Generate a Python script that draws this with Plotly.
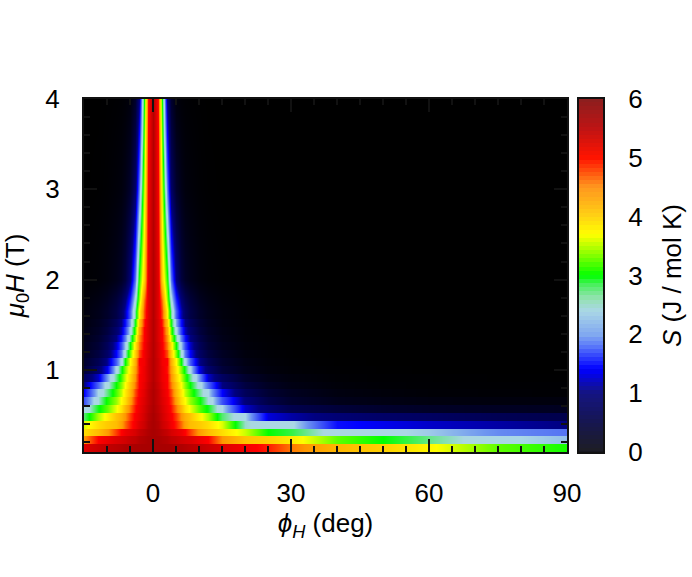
import plotly.graph_objects as go

W, H = 692, 577
phi_abs = [0, 1, 2, 3, 4, 5, 6, 7, 8, 10, 12, 15, 20, 25, 30, 40, 50, 60, 75, 90]

# Rows with visible steps (bottom to top)
S_low = [
    [5.76, 5.76, 5.76, 5.75, 5.75, 5.7, 5.7, 5.65, 5.6, 5.55, 5.45, 5.3, 5.1, 4.9, 4.6, 4.25, 4.05, 3.75, 3.25, 3.05],
    [5.76, 5.75, 5.7, 5.65, 5.55, 5.5, 5.4, 5.35, 5.3, 5.15, 5.0, 4.5, 4.15, 4.05, 3.85, 3.25, 3.0, 2.7, 2.3, 2.15],
    [5.76, 5.7, 5.6, 5.5, 5.35, 5.25, 5.15, 5.0, 4.8, 4.45, 4.2, 3.95, 3.55, 3.0, 2.85, 2.35, 2.3, 2.2, 1.95, 1.85],
    [5.75, 5.65, 5.45, 5.3, 5.1, 4.9, 4.65, 4.4, 4.2, 4.1, 3.95, 3.6, 2.55, 2.35, 2.3, 1.4, 1.3, 1.2, 1.1, 1.0],
    [5.75, 5.6, 5.4, 5.2, 5.05, 4.8, 4.5, 4.3, 4.15, 3.8, 3.45, 2.75, 2.25, 1.25, 1.1, 0.9, 0.8, 0.75, 0.65, 0.6],
    [5.72, 5.55, 5.35, 5.15, 4.95, 4.6, 4.25, 3.9, 3.65, 3.25, 2.95, 2.25, 1.2, 0.85, 0.6, 0.45, 0.35, 0.3, 0.27, 0.25],
    [5.7, 5.5, 5.3, 5.1, 4.85, 4.4, 3.95, 3.7, 3.4, 3.05, 2.5, 1.7, 0.95, 0.55, 0.35, 0.2, 0.15, 0.12, 0.1, 0.1],
    [5.7, 5.5, 5.25, 5.05, 4.75, 4.25, 3.85, 3.5, 3.2, 2.7, 2.25, 1.35, 0.7, 0.4, 0.25, 0.12, 0.08, 0.05, 0.04, 0.03],
    [5.68, 5.45, 5.2, 5.0, 4.6, 4.15, 3.7, 3.35, 3.0, 2.4, 1.8, 1.0, 0.5, 0.27, 0.15, 0.07, 0.04, 0.03, 0.02, 0.02],
    [5.65, 5.4, 5.15, 5.0, 4.5, 4.0, 3.55, 3.15, 2.7, 2.0, 1.2, 0.75, 0.35, 0.18, 0.1, 0.04, 0.02, 0.02, 0.01, 0.01],
    [5.65, 5.4, 5.15, 4.95, 4.4, 3.85, 3.35, 2.9, 2.3, 1.3, 0.85, 0.45, 0.2, 0.1, 0.05, 0.02, 0.01, 0, 0, 0],
    [5.65, 5.4, 5.1, 5.0, 4.3, 3.7, 3.0, 2.3, 1.75, 1.05, 0.65, 0.35, 0.15, 0.07, 0.03, 0.01, 0, 0, 0, 0],
    [5.65, 5.35, 5.1, 4.75, 4.05, 3.3, 2.5, 1.85, 1.35, 0.8, 0.5, 0.27, 0.1, 0.05, 0.02, 0, 0, 0, 0, 0],
    [5.65, 5.35, 5.05, 4.6, 3.85, 3.0, 2.2, 1.65, 1.2, 0.7, 0.42, 0.22, 0.08, 0.04, 0.02, 0, 0, 0, 0, 0],
    [5.65, 5.3, 5.0, 4.5, 3.5, 2.65, 1.9, 1.4, 1.0, 0.6, 0.36, 0.18, 0.06, 0.03, 0.01, 0, 0, 0, 0, 0],
    [5.65, 5.3, 5.0, 4.35, 3.2, 2.3, 1.6, 1.15, 0.85, 0.5, 0.3, 0.15, 0.05, 0.02, 0, 0, 0, 0, 0, 0],
    [5.65, 5.3, 4.9, 4.1, 2.95, 2.05, 1.4, 1.0, 0.7, 0.42, 0.25, 0.12, 0.04, 0.02, 0, 0, 0, 0, 0, 0],
    [5.65, 5.25, 4.75, 3.75, 2.65, 1.75, 1.15, 0.8, 0.55, 0.33, 0.2, 0.1, 0.03, 0, 0, 0, 0, 0, 0, 0],
]
# Smoother upper rows
H_high = [1.77, 2.0, 3.0, 4.0]
S_high = [
    [5.65, 5.25, 4.6, 3.4, 2.35, 1.5, 0.95, 0.65, 0.45, 0.25, 0.15, 0.07, 0.02, 0, 0, 0, 0, 0, 0, 0],
    [5.65, 5.25, 4.05, 3.1, 1.85, 0.95, 0.48, 0.3, 0.2, 0.1, 0.05, 0.02, 0, 0, 0, 0, 0, 0, 0, 0],
    [5.65, 5.1, 3.5, 1.9, 0.8, 0.35, 0.18, 0.1, 0.07, 0.03, 0.01, 0, 0, 0, 0, 0, 0, 0, 0, 0],
    [5.65, 4.95, 3.0, 1.0, 0.35, 0.1, 0.05, 0.03, 0.02, 0.01, 0, 0, 0, 0, 0, 0, 0, 0, 0, 0],
]

H_bottom, row_step = 0.09, 0.0869
x_ticks = [0, 30, 60, 90]
y_ticks = [1, 2, 3, 4]
cb_ticks = [0, 1, 2, 3, 4, 5, 6]

map_stops = [(0, (0, 0, 0)), (1, (0, 0, 128)), (1.35, (0, 0, 255)), (2, (110, 150, 240)),
             (2.25, (170, 215, 230)), (2.5, (170, 215, 225)), (3, (0, 255, 0)), (3.35, (130, 255, 0)),
             (3.7, (255, 255, 0)), (4, (255, 215, 0)), (4.5, (255, 150, 0)), (5, (255, 0, 0)), (6, (140, 0, 0))]
bar_stops = [(0, (30, 30, 35)), (0.5, (22, 22, 80)), (1, (20, 20, 130)), (1.4, (0, 0, 255)), (1.8, (90, 120, 250)),
             (2, (130, 170, 240)), (2.4, (170, 215, 230)), (2.6, (150, 225, 180)), (2.85, (70, 240, 90)), (3, (0, 255, 0)),
             (3.3, (120, 255, 0)), (3.7, (255, 255, 0)), (4, (255, 210, 20)), (4.5, (255, 150, 30)),
             (5, (255, 20, 0)), (5.5, (190, 20, 20)), (6, (140, 30, 30))]


def scale(stops):
    return [[v / 6, f"rgb{c}"] for v, c in stops]


def mirrored(row):
    return row[:0:-1] + row


def xdom(a, b):
    return [a / W, b / W]


def ydom(top, bottom):
    return [1 - bottom / H, 1 - top / H]


x = [-p for p in phi_abs[:0:-1]] + phi_abs
y, z = [], []
for i, row in enumerate(S_low):
    y += [H_bottom + i * row_step + 0.002, H_bottom + (i + 1) * row_step - 0.002]
    z += [mirrored(row), mirrored(row)]
for h, row in zip(H_high, S_high):
    y.append(h)
    z.append(mirrored(row))

bar_levels = [i * 0.07 + 0.035 for i in range(86)]

fig = go.Figure()
fig.add_trace(go.Heatmap(x=x, y=y, z=z, zmin=0, zmax=6, colorscale=scale(map_stops), zsmooth="best",
                         showscale=False, xaxis="x", yaxis="y"))
fig.add_trace(go.Heatmap(x=[0], y=bar_levels, z=[[v] for v in bar_levels], zmin=0, zmax=6,
                         colorscale=scale(bar_stops), showscale=False, xaxis="x2", yaxis="y2"))

FONT = dict(family="Liberation Sans, Arial, sans-serif", size=26, color="black")
LINE = "#111111"
fig.update_layout(
    width=W, height=H, autosize=False, margin=dict(l=0, r=0, t=0, b=0, pad=0, autoexpand=False),
    paper_bgcolor="white", plot_bgcolor="black", font=FONT, showlegend=False,
    xaxis=dict(domain=xdom(84, 567), range=[-15, 90], tickvals=x_ticks, ticks="inside", ticklen=13, tickwidth=2,
               tickcolor=LINE, showline=True, linecolor=LINE, linewidth=2, mirror="ticks", showgrid=False, zeroline=False,
               minor=dict(dtick=5, tick0=0, ticks="inside", ticklen=6, tickwidth=2, tickcolor=LINE), automargin=False,
               tickfont=FONT, ticklabelstandoff=17, title=dict(text="<i>ϕ</i><sub><i>H</i></sub> (deg)", standoff=6, font=FONT)),
    yaxis=dict(domain=ydom(99, 452), range=[H_bottom, 4], tickvals=y_ticks, ticks="inside", ticklen=13,
               tickwidth=2, tickcolor=LINE, showline=True, linecolor=LINE, linewidth=2, mirror="ticks", showgrid=False,
               zeroline=False, minor=dict(dtick=0.2, tick0=0, ticks="inside", ticklen=6, tickwidth=2, tickcolor=LINE),
               automargin=False, tickfont=FONT, ticklabelstandoff=17,
               title=dict(text="<i>μ</i><sub>0</sub><i>H</i> (T)", standoff=20, font=FONT)),
    xaxis2=dict(domain=xdom(579, 603), anchor="y2", range=[-0.5, 0.5], showticklabels=False, ticks="",
                showline=True, linecolor=LINE, linewidth=2, mirror=True, showgrid=False, zeroline=False, automargin=False),
    yaxis2=dict(domain=ydom(99, 452), anchor="x2", side="right", range=[0, 6], tickvals=cb_ticks,
                ticks="", showline=True, linecolor=LINE, linewidth=2, mirror=True, showgrid=True, gridcolor="black",
                griddash="7px,3px", gridwidth=1.5, zeroline=False, ticklabelstandoff=18, layer="above traces",
                automargin=False, tickfont=FONT, title=dict(text="<i>S</i> (J / mol K)", standoff=21, font=FONT)),
)
fig.write_html("out.html", config=dict(displayModeBar=False),
               post_script="document.body.style.margin='0';document.documentElement.style.overflow='hidden';")
